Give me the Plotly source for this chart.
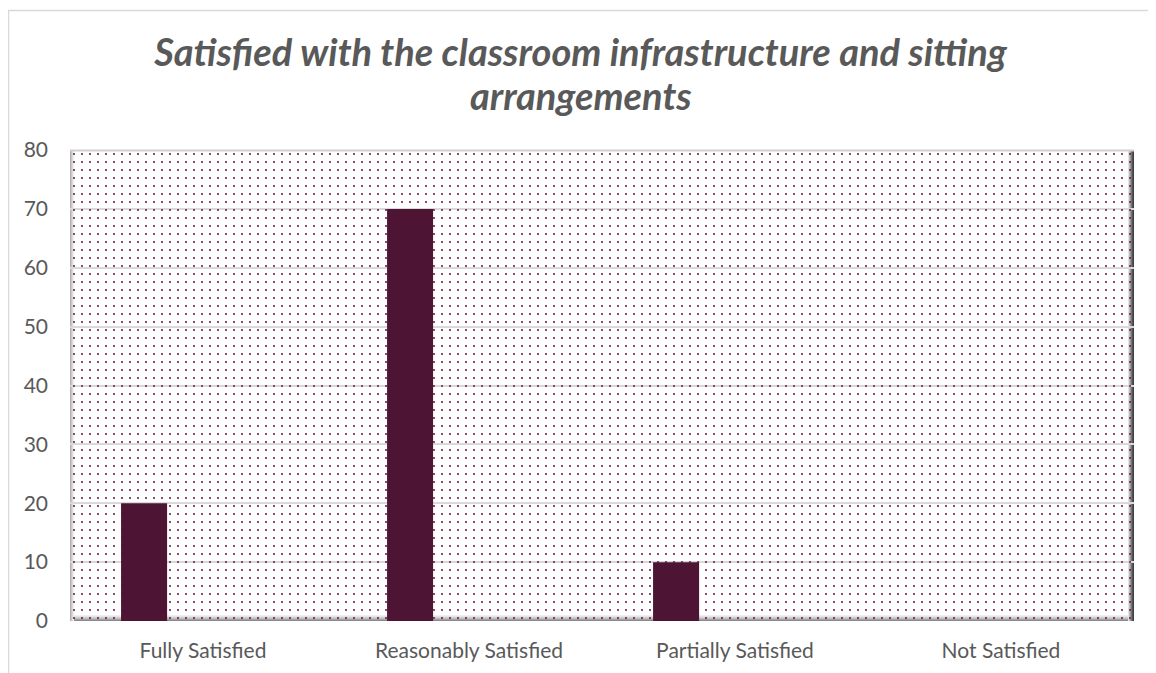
import plotly.graph_objects as go

categories = ["Fully Satisfied", "Reasonably Satisfied", "Partially Satisfied", "Not Satisfied"]
values = [20, 70, 10, 0]
y_ticks = [0, 10, 20, 30, 40, 50, 60, 70, 80]
title_line1 = "Satisfied with the classroom infrastructure and sitting"
title_line2 = "arrangements"

BAR_COLOR = "#4E1433"
TEXT_COLOR = "#595959"
FONT = "Lato, 'Open Sans', sans-serif"

W, H = 1148, 665
ML, MR, MT, MB = 62, 22, 142, 52
PW, PH = W - ML - MR, H - MT - MB


def px_to_paper_x(xf):
    return (xf - ML) / PW


def px_to_paper_y(yf):
    return (H - MB - yf) / PH


fig = go.Figure()

# dotted plot-area background (transparent base so gridlines show through)
fig.add_trace(go.Bar(
    x=[categories[0]], y=[y_ticks[-1]], width=[len(categories)], offset=-0.5,
    marker=dict(color="rgba(0,0,0,0)", line=dict(width=0),
                pattern=dict(shape=".", fgcolor="#6E1F4F", bgcolor="rgba(0,0,0,0)",
                             size=8, solidity=0.055, fillmode="replace")),
    hoverinfo="skip", showlegend=False,
))

fig.add_trace(go.Bar(
    x=categories, y=values, width=0.173, offset=-0.308,
    marker=dict(color=BAR_COLOR, line=dict(width=0)),
    showlegend=False,
))

shapes = [
    # outer chart border (only top/left visible)
    dict(type="rect", xref="paper", yref="paper",
         x0=px_to_paper_x(0.5), x1=px_to_paper_x(W + 50),
         y0=px_to_paper_y(H + 50), y1=px_to_paper_y(2.5),
         line=dict(color="#D9D9D9", width=1.5), fillcolor="rgba(0,0,0,0)", layer="below"),
]

bottom_cols = ["#8A8A8A", "#A3A3A3", "#BDBDBD", "#D2D2D2", "#E3E3E3", "#F0F0F0"]
for i, c in enumerate(bottom_cols):
    shapes.append(dict(type="line", xref="paper", yref="paper", x0=0, x1=1,
                       ysizemode="pixel", yanchor=0, y0=i + 0.5, y1=i + 0.5,
                       line=dict(color=c, width=1), layer="between"))
right_cols = ["#3F3F3F", "#555555", "#737373", "#9A9A9A", "#C2C2C2", "#E2E2E2"]
for i, c in enumerate(right_cols):
    shapes.append(dict(type="line", xref="paper", yref="paper", y0=0, y1=1,
                       xsizemode="pixel", xanchor=1, x0=-i - 0.5, x1=-i - 0.5,
                       line=dict(color=c, width=1), layer="between"))
left_cols = ["#B0B0B0", "#C8C8C8", "#DCDCDC", "#ECECEC"]
for i, c in enumerate(left_cols):
    shapes.append(dict(type="line", xref="paper", yref="paper", y0=0, y1=1,
                       xsizemode="pixel", xanchor=0, x0=i + 0.5, x1=i + 0.5,
                       line=dict(color=c, width=1), layer="between"))
shapes.append(dict(type="line", xref="paper", yref="paper", x0=0, x1=1,
                   ysizemode="pixel", yanchor=1, y0=-0.5, y1=-0.5,
                   line=dict(color="#D0D0D0", width=2), layer="between"))

title_font = dict(family=FONT, size=38, color=TEXT_COLOR, weight="bold", style="italic")

fig.update_layout(
    width=W, height=H,
    margin=dict(l=ML, r=MR, t=MT, b=MB, autoexpand=False),
    paper_bgcolor="white", plot_bgcolor="white",
    barmode="overlay",
    shapes=shapes,
    title=dict(text=title_line1, xref="container", x=572.5 / W, xanchor="center",
               yref="container", y=1 - 44.5 / H, yanchor="middle", font=title_font),
    annotations=[dict(text=title_line2, xref="paper", yref="paper",
                      x=px_to_paper_x(572.5), y=px_to_paper_y(87.5),
                      xanchor="center", yanchor="middle", showarrow=False,
                      font=title_font)],
    xaxis=dict(type="category", categoryorder="array", categoryarray=categories,
               range=[-0.5, 3.5], showgrid=False, zeroline=False, showline=False,
               ticks="", ticklabelstandoff=15,
               tickfont=dict(family=FONT, size=21, color=TEXT_COLOR)),
    yaxis=dict(range=[0, 80], tickvals=y_ticks, showgrid=True, gridcolor="#D9D9D9",
               gridwidth=2, zeroline=False, showline=False, ticks="",
               ticklabelstandoff=21,
               tickfont=dict(family=FONT, size=21, color=TEXT_COLOR)),
)

fig.write_html("out.html")
